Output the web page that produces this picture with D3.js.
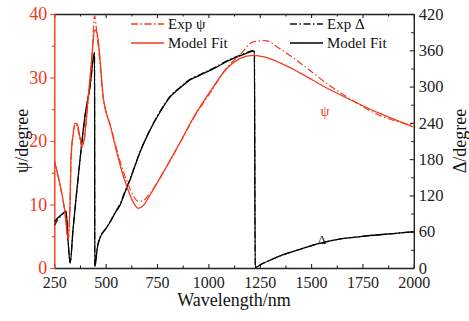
<!DOCTYPE html>
<html>
<head>
<meta charset="utf-8">
<script src="https://cdn.jsdelivr.net/npm/d3@7"></script>
<style>
  body { margin: 0; background: #fff; }
  svg text { font-family: "Liberation Serif", "Times New Roman", serif; }
</style>
</head>
<body>
<div id="chart"></div>
<script>
// ψ data (left axis), wavelength in nm
const psiWl  = [250, 278, 302, 317, 327, 331, 341, 351, 361, 375, 385, 395, 414, 434, 446, 458, 473, 487, 502, 522, 551, 580, 609, 634, 658, 682, 716, 765, 814, 863, 926, 1009, 1092, 1155, 1218, 1277, 1350, 1447, 1579, 1691, 1837, 2000];
const psiFit = [17.0, 13.1, 8.8, 4.7, 10.7, 17.0, 20.9, 22.8, 22.7, 20.6, 19.2, 20.2, 26.5, 33.5, 37.5, 37.0, 32.8, 27.2, 24.6, 22.5, 18.6, 15.1, 12.3, 10.4, 9.4, 9.8, 11.5, 14.2, 17.0, 19.8, 23.6, 27.8, 31.5, 33.0, 33.5, 33.2, 32.3, 30.7, 28.3, 26.5, 24.3, 22.2];
const psiExp = [16.8, 13.0, 8.6, 4.3, 10.5, 16.8, 21.0, 22.6, 22.3, 20.2, 19.0, 20.0, 26.0, 34.0, 39.7, 36.6, 32.0, 27.0, 24.5, 22.6, 19.0, 15.8, 13.2, 11.4, 10.5, 10.6, 11.8, 14.2, 16.9, 19.8, 23.5, 27.6, 31.6, 33.6, 35.6, 35.8, 34.5, 32.3, 29.0, 26.6, 24.0, 22.4];

// Δ data (right axis)
const deltaWl  = [250, 268, 288, 307, 317, 327, 341, 356, 375, 400, 424, 446, 447, 451, 458, 473, 497, 522, 546, 570, 595, 619, 644, 668, 716, 765, 814, 863, 911, 960, 1033, 1106, 1179, 1224, 1228, 1262, 1301, 1365, 1447, 1545, 1642, 1769, 1900, 2000];
const deltaFit = [76, 83, 89, 94, 46, 8, 63, 116, 179, 253, 301, 357, 2, 8, 30, 50, 63, 76, 91, 104, 126, 146, 170, 192, 228, 258, 283, 298, 311, 319, 331, 344, 354, 359, 1, 7, 13, 22, 31, 41, 48, 53, 57, 60];
const deltaExp = [70, 80, 88, 93, 44, 9, 62, 115, 178, 252, 300, 355, 3, 9, 31, 51, 64, 77, 92, 106, 128, 147, 171, 193, 229, 259, 284, 299, 312, 320, 332, 345, 355, 360, 1, 7, 13, 22, 31, 41, 48, 53, 57, 60];

const xTicks = [250, 500, 750, 1000, 1250, 1500, 1750, 2000];
const psiTicks = [0, 10, 20, 30, 40];
const deltaTicks = [0, 60, 120, 180, 240, 300, 360, 420];

const RED = '#f5391b';
const FONT = '"Liberation Serif", "Times New Roman", serif';
const width = 469, height = 321;
const plot = { left: 54.3, right: 413.8, top: 14, bottom: 268 };

const svg = d3.select('#chart').append('svg')
  .attr('width', width).attr('height', height);

const x = d3.scaleLinear().domain([250, 2000]).range([plot.left, plot.right]);
const yL = d3.scaleLinear().domain([0, 40]).range([plot.bottom, plot.top]);
const yR = d3.scaleLinear().domain([0, 420]).range([plot.bottom, plot.top]);

svg.append('clipPath').attr('id', 'clip').append('rect')
  .attr('x', plot.left).attr('y', plot.top - 2)
  .attr('width', plot.right - plot.left).attr('height', plot.bottom - plot.top + 2);

// minor tick helpers
const xMinor = xTicks.slice(0, -1).map(v => v + 125);
const psiMinor = psiTicks.slice(0, -1).map(v => v + 5);
const deltaMinor = deltaTicks.slice(0, -1).map(v => v + 30);

function styleAxis(g, color, size) {
  g.attr('font-family', FONT);
  g.selectAll('path.domain').attr('stroke', color).attr('stroke-width', 1.4);
  g.selectAll('.tick line').attr('stroke', color).attr('stroke-width', 1.1);
  g.selectAll('.tick text').attr('fill', color).style('font-size', (size || 16) + 'px');
}

const fmt = d3.format('d');

// bottom
svg.append('g').attr('transform', `translate(0,${plot.bottom})`)
  .call(d3.axisBottom(x).tickValues(xTicks).tickFormat(fmt).tickSize(-4).tickSizeOuter(0).tickPadding(9))
  .call(styleAxis, '#222', 16);
svg.append('g').attr('transform', `translate(0,${plot.bottom})`)
  .call(d3.axisBottom(x).tickValues(xMinor).tickSize(-2.5).tickFormat(''))
  .call(g => g.select('.domain').remove()).call(styleAxis, '#222');

// top
svg.append('g').attr('transform', `translate(0,${plot.top})`)
  .call(d3.axisTop(x).tickValues(xTicks).tickSize(-4).tickSizeOuter(0).tickFormat(''))
  .call(styleAxis, '#222');
svg.append('g').attr('transform', `translate(0,${plot.top})`)
  .call(d3.axisTop(x).tickValues(xMinor).tickSize(-2.5).tickFormat(''))
  .call(g => g.select('.domain').remove()).call(styleAxis, '#222');

// right (Δ)
svg.append('g').attr('transform', `translate(${plot.right},0)`)
  .call(d3.axisRight(yR).tickValues(deltaTicks).tickSize(-4).tickSizeOuter(0).tickPadding(5))
  .call(styleAxis, '#222', 16.5);
svg.append('g').attr('transform', `translate(${plot.right},0)`)
  .call(d3.axisRight(yR).tickValues(deltaMinor).tickSize(-2.5).tickFormat(''))
  .call(g => g.select('.domain').remove()).call(styleAxis, '#222');

// left (ψ)
svg.append('g').attr('transform', `translate(${plot.left},0)`)
  .call(d3.axisLeft(yL).tickValues(psiTicks).tickSize(4).tickSizeOuter(0).tickPadding(3))
  .call(styleAxis, RED, 18);
svg.append('g').attr('transform', `translate(${plot.left},0)`)
  .call(d3.axisLeft(yL).tickValues(psiMinor).tickSize(2.5).tickFormat(''))
  .call(g => g.select('.domain').remove()).call(styleAxis, RED);

// curves
const psiLine = d3.line().x(d => x(d[0])).y(d => yL(d[1])).curve(d3.curveMonotoneX);
const deltaLine = d3.line().x(d => x(d[0])).y(d => yR(d[1])).curve(d3.curveMonotoneX);

const curves = svg.append('g').attr('clip-path', 'url(#clip)');
const dashDot = '7,2.5,1.5,2.5';

curves.append('path').datum(d3.zip(deltaWl, deltaExp))
  .attr('d', deltaLine).attr('fill', 'none').attr('stroke', '#111')
  .attr('stroke-width', 1.2).attr('stroke-dasharray', dashDot);
curves.append('path').datum(d3.zip(deltaWl, deltaFit))
  .attr('d', deltaLine).attr('fill', 'none').attr('stroke', '#000').attr('stroke-width', 1.3);

curves.append('path').datum(d3.zip(psiWl, psiExp))
  .attr('d', psiLine).attr('fill', 'none').attr('stroke', RED)
  .attr('stroke-width', 1.2).attr('stroke-dasharray', dashDot);
curves.append('path').datum(d3.zip(psiWl, psiFit))
  .attr('d', psiLine).attr('fill', 'none').attr('stroke', RED).attr('stroke-width', 1.3);

// legend
const legend = [
  { x: 131, y: 24, color: RED, dash: dashDot, label: 'Exp ψ' },
  { x: 131, y: 43, color: RED, dash: null, label: 'Model Fit' },
  { x: 290, y: 24, color: '#111', dash: dashDot, label: 'Exp Δ' },
  { x: 290, y: 43, color: '#000', dash: null, label: 'Model Fit' }
];
const lg = svg.append('g').selectAll('g').data(legend).join('g');
lg.append('line')
  .attr('x1', d => d.x).attr('x2', d => d.x + 33)
  .attr('y1', d => d.y).attr('y2', d => d.y)
  .attr('stroke', d => d.color).attr('stroke-width', 1.3)
  .attr('stroke-dasharray', d => d.dash);
lg.append('text')
  .attr('x', d => d.x + 37).attr('y', d => d.y).attr('dy', '0.35em')
  .style('font-size', '15px').attr('fill', '#111')
  .text(d => d.label);

// annotations
svg.append('text').attr('x', 325).attr('y', 111).attr('dy', '0.35em')
  .attr('text-anchor', 'middle').attr('fill', RED).style('font-size', '14px').text('ψ');
svg.append('text').attr('x', 322).attr('y', 239).attr('dy', '0.35em')
  .attr('text-anchor', 'middle').attr('fill', '#111').style('font-size', '13px').text('Δ');

// axis titles
svg.append('text').attr('x', (plot.left + plot.right) / 2).attr('y', 306)
  .attr('text-anchor', 'middle').style('font-size', '18px').attr('fill', '#111')
  .text('Wavelength/nm');
svg.append('text').attr('transform', `translate(22,${(plot.top + plot.bottom) / 2}) rotate(-90)`)
  .attr('text-anchor', 'middle').attr('dy', '0.35em').style('font-size', '18px').attr('fill', '#111')
  .text('ψ/degree');
svg.append('text').attr('transform', `translate(460,${(plot.top + plot.bottom) / 2}) rotate(-90)`)
  .attr('text-anchor', 'middle').attr('dy', '0.35em').style('font-size', '18px').attr('fill', '#111')
  .text('Δ/degree');
</script>
</body>
</html>
